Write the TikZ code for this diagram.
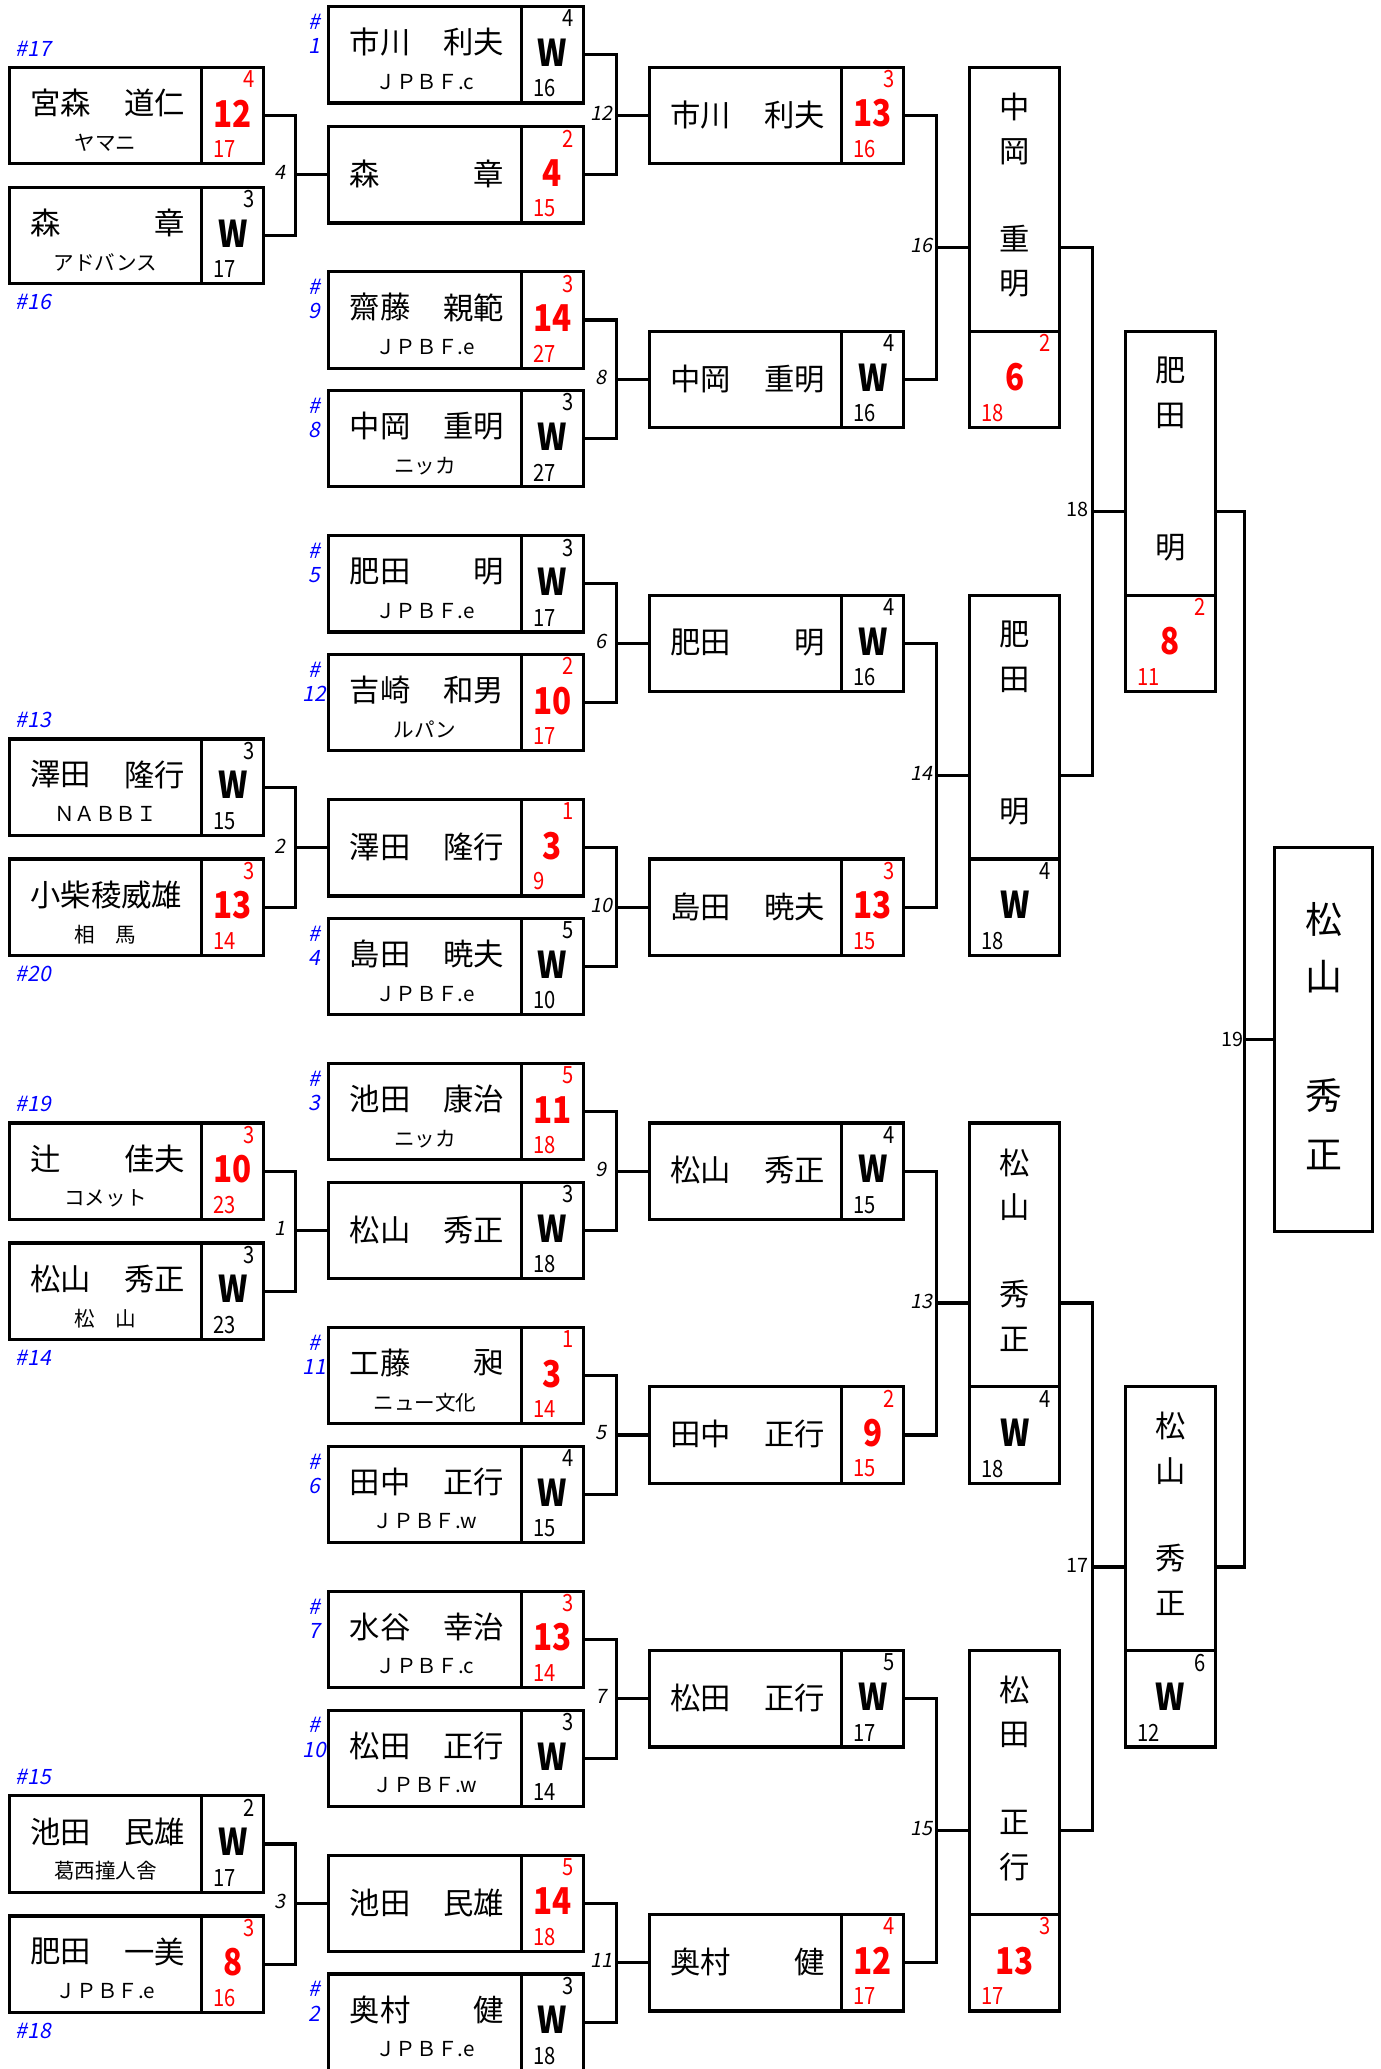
\documentclass[tikz,border=0pt]{standalone}
\usepackage{fontspec}
\setmainfont{Noto Sans CJK JP}
\newfontfamily\numfont[FakeStretch=0.85]{Noto Sans CJK JP}
\newfontfamily\slfont[FakeSlant=0.2]{Noto Sans CJK JP}
\usetikzlibrary{positioning, calc}

% one entry: name, top left, surname, given name, club, sets, score, points
\newcommand{\entry}[8]{%
  \def\tmpscore{#7}\def\tmpw{W}%
  \ifx\tmpscore\tmpw\def\rescol{black}\else\def\rescol{red}\fi
  \def\tmpclub{#5}%
  \ifx\tmpclub\empty\def\namey{36}\else\def\namey{27}\fi
  \node[player] (#1) at #2 {};
  \draw[link] ($(#1.north east)+(-47,0)$) -- ($(#1.south east)+(-47,0)$);
  \node[namefont, anchor=west] (#1-sur) at ($(#1.north west)+(16,\namey)$) {#3};
  \node[namefont, anchor=east] (#1-giv) at ($(#1.north west)+(133,\namey)$) {#4};
  \ifx\tmpclub\empty\else
    \node[clubfont] (#1-club) at ($(#1.north west)+(73,57)$) {#5};
  \fi
  \node[smallnum, text=\rescol, anchor=east] (#1-sets) at ($(#1.north east)+(-7,9)$) {#6};
  \node[bignum, text=\rescol] (#1-score) at ($(#1.north east)+(-23.5,35)$) {#7};
  \node[smallnum, text=\rescol, anchor=west] (#1-pts) at ($(#1.north east)+(-38,62)$) {#8};
}

% upright entry for the late rounds: name, top left, four characters, sets, score, points
\newcommand{\vertentry}[9]{%
  \def\tmpscore{#8}\def\tmpw{W}%
  \ifx\tmpscore\tmpw\def\rescol{black}\else\def\rescol{red}\fi
  \node[finalist] (#1) at #2 {};
  \draw[link] ($(#1.south west)+(0,-73)$) -- ($(#1.south east)+(0,-73)$);
  \node[namefont] (#1-c1) at ($(#1.north)+(0,30)$) {#3};
  \node[namefont] (#1-c2) at ($(#1.north)+(0,64)$) {#4};
  \def\tmpfour{#6}%
  \ifx\tmpfour\empty
    \node[namefont] (#1-c3) at ($(#1.north)+(0,164)$) {#5};
  \else
    \node[namefont] (#1-c3) at ($(#1.north)+(0,130)$) {#5};
    \node[namefont] (#1-c4) at ($(#1.north)+(0,164)$) {#6};
  \fi
  \node[smallnum, text=\rescol, anchor=east] (#1-sets) at ($(#1.south west)+(61,-64)$) {#7};
  \node[bignum, text=\rescol] (#1-score) at ($(#1.south)+(0,-38)$) {#8};
  \node[smallnum, text=\rescol, anchor=west] (#1-pts) at ($(#1.south west)+(9,-11)$) {#9};
}

% bracket: upper, lower, next, match number, label style
\newcommand{\bracketjoin}[5]{%
  \coordinate (j#4) at ($(#3.west)+(-25,0)$);
  \draw[link] (#1.east) -| (j#4) |- (#2.east);
  \draw[link] (j#4) -- (#3.west);
  \node[#5] (j#4-lab) at ($(j#4)+(-11.5,-1.5)$) {#4};
}

\newcommand{\seed}[2]{%
  \node[seedlab] (#1-hash) at ($(#1.north west)+(-11,11.5)$) {\#};
  \node[seedlab] (#1-seed) at ($(#1.north west)+(-11,30)$) {#2};
}

\begin{document}
\begin{tikzpicture}[
    x=0.5pt, y=-0.5pt,
    every node/.style={inner sep=0pt, outer sep=0pt},
    link/.style={line width=1.2pt},
    player/.style={draw, line width=1.2pt, anchor=north west, minimum width=96.5pt, minimum height=36.5pt},
    finalist/.style={draw, line width=1.2pt, anchor=north west, minimum width=34pt, minimum height=136.5pt},
    champion/.style={draw, line width=1.2pt, anchor=north west, minimum width=37pt, minimum height=145.5pt},
    namefont/.style={font=\fontsize{11.5}{13}\selectfont},
    clubfont/.style={font=\fontsize{7.8}{9}\selectfont},
    smallnum/.style={font=\numfont\fontsize{9}{10}\selectfont},
    bignum/.style={font=\numfont\bfseries\fontsize{14}{16}\selectfont},
    matchlab/.style={font=\slfont\fontsize{7.5}{9}\selectfont},
    finallab/.style={font=\fontsize{7.5}{9}\selectfont},
    seedlab/.style={font=\slfont\fontsize{8}{9}\selectfont, text=blue}
]
    \useasboundingbox (0,0) rectangle (1046,1568);

    % Preliminary round
    \entry{p17}{(7,51)}{宮森}{道仁}{ヤマニ}{4}{12}{17}
    \entry{p16}{(7,142)}{森}{章}{アドバンス}{3}{W}{17}
    \entry{p13}{(7,560)}{澤田}{隆行}{ＮＡＢＢＩ}{3}{W}{15}
    \entry{p20}{(7,651)}{小柴稜威雄}{}{相　馬}{3}{13}{14}
    \entry{p19}{(7,851)}{辻}{佳夫}{コメット}{3}{10}{23}
    \entry{p14}{(7,942)}{松山}{秀正}{松　山}{3}{W}{23}
    \entry{p15}{(7,1361)}{池田}{民雄}{葛西撞人舎}{2}{W}{17}
    \entry{p18}{(7,1452)}{肥田}{一美}{ＪＰＢＦ.e}{3}{8}{16}

    \node[seedlab, anchor=west] (p17-seed) at ($(p17.north west)+(5,-14)$) {\#17};
    \node[seedlab, anchor=west] (p16-seed) at ($(p16.south west)+(5,14)$) {\#16};
    \node[seedlab, anchor=west] (p13-seed) at ($(p13.north west)+(5,-14)$) {\#13};
    \node[seedlab, anchor=west] (p20-seed) at ($(p20.south west)+(5,14)$) {\#20};
    \node[seedlab, anchor=west] (p19-seed) at ($(p19.north west)+(5,-14)$) {\#19};
    \node[seedlab, anchor=west] (p14-seed) at ($(p14.south west)+(5,14)$) {\#14};
    \node[seedlab, anchor=west] (p15-seed) at ($(p15.north west)+(5,-14)$) {\#15};
    \node[seedlab, anchor=west] (p18-seed) at ($(p18.south west)+(5,14)$) {\#18};

    % First round
    \entry{s1}{(249,5)}{市川}{利夫}{ＪＰＢＦ.c}{4}{W}{16}
    \entry{w4}{(249,96)}{森}{章}{}{2}{4}{15}
    \entry{s9}{(249,206)}{齋藤}{親範}{ＪＰＢＦ.e}{3}{14}{27}
    \entry{s8}{(249,296)}{中岡}{重明}{ニッカ}{3}{W}{27}
    \entry{s5}{(249,406)}{肥田}{明}{ＪＰＢＦ.e}{3}{W}{17}
    \entry{s12}{(249,496)}{吉崎}{和男}{ルパン}{2}{10}{17}
    \entry{w2}{(249,606)}{澤田}{隆行}{}{1}{3}{9}
    \entry{s4}{(249,696)}{島田}{暁夫}{ＪＰＢＦ.e}{5}{W}{10}
    \entry{s3}{(249,806)}{池田}{康治}{ニッカ}{5}{11}{18}
    \entry{w1}{(249,896)}{松山}{秀正}{}{3}{W}{18}
    \entry{s11}{(249,1006)}{工藤}{昶}{ニュー文化}{1}{3}{14}
    \entry{s6}{(249,1096)}{田中}{正行}{ＪＰＢＦ.w}{4}{W}{15}
    \entry{s7}{(249,1206)}{水谷}{幸治}{ＪＰＢＦ.c}{3}{13}{14}
    \entry{s10}{(249,1296)}{松田}{正行}{ＪＰＢＦ.w}{3}{W}{14}
    \entry{w3}{(249,1406)}{池田}{民雄}{}{5}{14}{18}
    \entry{s2}{(249,1496)}{奥村}{健}{ＪＰＢＦ.e}{3}{W}{18}

    \seed{s1}{1} \seed{s9}{9} \seed{s8}{8} \seed{s5}{5}
    \seed{s12}{12} \seed{s4}{4} \seed{s3}{3} \seed{s11}{11}
    \seed{s6}{6} \seed{s7}{7} \seed{s10}{10} \seed{s2}{2}

    % Second round
    \entry{w12}{(492,51)}{市川}{利夫}{}{3}{13}{16}
    \entry{w8}{(492,251)}{中岡}{重明}{}{4}{W}{16}
    \entry{w6}{(492,451)}{肥田}{明}{}{4}{W}{16}
    \entry{w10}{(492,651)}{島田}{暁夫}{}{3}{13}{15}
    \entry{w9}{(492,851)}{松山}{秀正}{}{4}{W}{15}
    \entry{w5}{(492,1051)}{田中}{正行}{}{2}{9}{15}
    \entry{w7}{(492,1251)}{松田}{正行}{}{5}{W}{17}
    \entry{w11}{(492,1451)}{奥村}{健}{}{4}{12}{17}

    % Quarter and semi finals
    \vertentry{w16}{(735,51)}{中}{岡}{重}{明}{2}{6}{18}
    \vertentry{w14}{(735,451)}{肥}{田}{明}{}{4}{W}{18}
    \vertentry{w13}{(735,851)}{松}{山}{秀}{正}{4}{W}{18}
    \vertentry{w15}{(735,1251)}{松}{田}{正}{行}{3}{13}{17}
    \vertentry{w18}{(853,251)}{肥}{田}{明}{}{2}{8}{11}
    \vertentry{w17}{(853,1051)}{松}{山}{秀}{正}{6}{W}{12}

    % Champion
    \node[champion] (w19) at (966,642) {};
    \node[font=\fontsize{14}{16}\selectfont] (w19-c1) at ($(w19.north)+(0,55)$) {松};
    \node[font=\fontsize{14}{16}\selectfont] (w19-c2) at ($(w19.north)+(0,98)$) {山};
    \node[font=\fontsize{14}{16}\selectfont] (w19-c3) at ($(w19.north)+(0,188)$) {秀};
    \node[font=\fontsize{14}{16}\selectfont] (w19-c4) at ($(w19.north)+(0,233)$) {正};

    % Brackets
    \bracketjoin{p17}{p16}{w4}{4}{matchlab}
    \bracketjoin{p13}{p20}{w2}{2}{matchlab}
    \bracketjoin{p19}{p14}{w1}{1}{matchlab}
    \bracketjoin{p15}{p18}{w3}{3}{matchlab}

    \bracketjoin{s1}{w4}{w12}{12}{matchlab}
    \bracketjoin{s9}{s8}{w8}{8}{matchlab}
    \bracketjoin{s5}{s12}{w6}{6}{matchlab}
    \bracketjoin{w2}{s4}{w10}{10}{matchlab}
    \bracketjoin{s3}{w1}{w9}{9}{matchlab}
    \bracketjoin{s11}{s6}{w5}{5}{matchlab}
    \bracketjoin{s7}{s10}{w7}{7}{matchlab}
    \bracketjoin{w3}{s2}{w11}{11}{matchlab}

    \bracketjoin{w12}{w8}{w16}{16}{matchlab}
    \bracketjoin{w6}{w10}{w14}{14}{matchlab}
    \bracketjoin{w9}{w5}{w13}{13}{matchlab}
    \bracketjoin{w7}{w11}{w15}{15}{matchlab}

    \bracketjoin{w16}{w14}{w18}{18}{finallab}
    \bracketjoin{w13}{w15}{w17}{17}{finallab}

    % Final
    \coordinate (j19) at ($(w19.west)+(-23,0)$);
    \draw[link] (w18.east) -| (j19) |- (w17.east);
    \draw[link] (j19) -- (w19.west);
    \node[finallab] (j19-lab) at ($(j19)+(-9,0)$) {19};
\end{tikzpicture}
\end{document}
